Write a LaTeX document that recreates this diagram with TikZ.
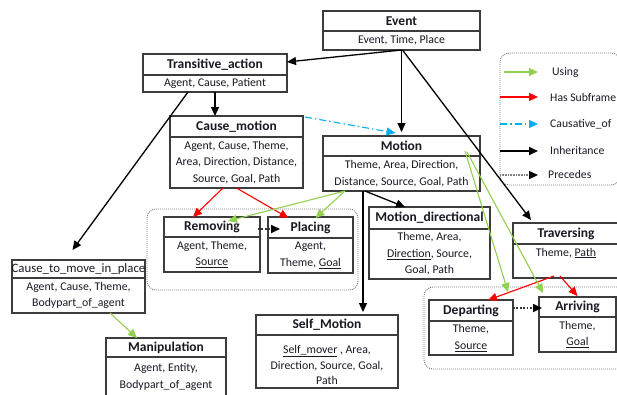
\documentclass[tikz,border=0pt]{standalone}
\usepackage{fontspec}
\setmainfont{Carlito}
\usetikzlibrary{arrows.meta,fit,calc}
\definecolor{ugreen}{RGB}{146,208,80}
\definecolor{ured}{RGB}{255,0,0}
\definecolor{ucyan}{RGB}{0,176,240}
\definecolor{boxc}{RGB}{60,60,60}
\definecolor{txtc}{RGB}{25,25,35}
\tikzset{
  box/.style={draw=boxc, line width=1.1pt, inner sep=0pt, outer sep=0pt},
  ttl/.style={font=\bfseries\fontsize{13.5}{15}\selectfont, text=txtc, inner sep=0pt},
  bod/.style={font=\fontsize{11.8}{16.5}\selectfont, text=txtc, align=center, inner sep=0pt},
  grp/.style={draw=gray, line width=0.9pt, dash pattern=on 1pt off 1pt, rounded corners=9pt, inner sep=0pt},
  tip/.style={-{Triangle[length=9pt,width=8pt]}},
  inh/.style={tip, draw=black, line width=1.3pt},
  usg/.style={tip, draw=ugreen, color=ugreen, line width=1.1pt},
  sub/.style={tip, draw=ured, color=ured, line width=1.1pt},
  cau/.style={tip, draw=ucyan, color=ucyan, line width=1.1pt, dash pattern=on 7pt off 3pt on 1.5pt off 3pt},
  prc/.style={-{Triangle[length=9pt,width=8pt,black]}, draw=black!80, line width=1.7pt, dash pattern=on 1.7pt off 1.7pt},
  lgt/.style={font=\fontsize{11.7}{13}\selectfont, text=txtc, anchor=west, inner sep=0pt},
}
\newcommand\mkframe[9]{%
  \coordinate (#1-nw) at (#2,#3);
  \coordinate (#1-se) at (#5,#6);
  \node[box, fit=(#1-nw)(#1-se)] (#1) {};
  \draw[draw=boxc, line width=#7] (#2,#4) -- (#5,#4);
  \node[ttl] (#1-t) at ({(#2+#5)/2},{(#3+#4)/2}) {#8};
  \node[bod] (#1-b) at ({(#2+#5)/2},{(#4+#6)/2}) {#9};
}
\begin{document}
\begin{tikzpicture}[x=1pt,y=-1pt]
\useasboundingbox (0,0) rectangle (617,394);
\clip (0,0) rectangle (617,394);
\fill[white] (0,0) rectangle (617,394);

% groups
\coordinate (g1a) at (147,209); \coordinate (g1b) at (358,290);
\node[grp, fit=(g1a)(g1b)] (grpRP) {};
\coordinate (g2a) at (424,287); \coordinate (g2b) at (628,369);
\node[grp, fit=(g2a)(g2b)] (grpDA) {};
\coordinate (g3a) at (500,53); \coordinate (g3b) at (620,185);
\node[grp, fit=(g3a)(g3b)] (legend) {};

% frames
\mkframe{Event}{323}{11}{31}{480}{50}{1.1pt}{Event}{Event, Time, Place}
\mkframe{Trans}{143}{54}{75}{287}{92}{1.1pt}{Transitive\_action}{Agent, Cause, Patient}
\mkframe{CM}{170}{116}{137}{303}{188}{2.2pt}{Cause\_motion}{Agent, Cause, Theme,\\Area, Direction, Distance,\\Source, Goal, Path}
\mkframe{Motion}{323}{136}{156}{480}{191}{1.1pt}{Motion}{Theme, Area, Direction,\\Distance, Source, Goal, Path}
\mkframe{Removing}{164}{217}{237}{260}{272}{1.1pt}{Removing}{Agent, Theme,\\\underline{Source}}
\mkframe{Placing}{268}{217}{238}{353}{273}{1.1pt}{Placing}{Agent,\\Theme, \underline{Goal}}
\mkframe{MD}{369}{207}{229}{490}{279}{1.1pt}{Motion\_directional}{Theme, Area,\\\underline{Direction}, Source,\\Goal, Path}
\mkframe{Trav}{513}{223}{244}{619}{278}{2.2pt}{Traversing}{}
\node[bod] (Trav-text) at (566,253) {Theme, \underline{Path}};
\mkframe{Dep}{429}{300}{321}{513}{355}{2.2pt}{Departing}{Theme,\\\underline{Source}}
\mkframe{Arr}{539}{297}{317}{616}{352}{1.1pt}{Arriving}{Theme,\\\underline{Goal}}
\mkframe{CTM}{12}{260}{278}{145}{313}{2.2pt}{\mdseries\fontsize{12.8}{15}\selectfont Cause\_to\_move\_in\_place}{Agent, Cause, Theme,\\Bodypart\_of\_agent}
\mkframe{Manip}{106}{338}{357}{226}{397}{1.1pt}{Manipulation}{Agent, Entity,\\Bodypart\_of\_agent}
\mkframe{Self}{256}{315}{335}{398}{388}{1.1pt}{Self\_Motion}{}
\node[bod, font=\fontsize{11.8}{15.5}\selectfont] (Self-text) at (327,365) {\underline{Self\_mover} , Area,\\Direction, Source, Goal,\\Path};

% inheritance
\draw[inh] (Event.south) -- ([yshift=11pt]Trans.east);
\draw[inh] (Event.south) -- ([yshift=4pt]Motion.north);
\draw[inh] ([xshift=1pt]Event.south) -- ([xshift=-35pt,yshift=3pt]Trav.north);
\draw[inh] (Trans.south) -- (Trans.south |- CM.north);
\draw[inh] ([xshift=-27pt]Trans.south) -- ([xshift=-6pt,yshift=10pt]CTM.north);
\draw[inh] ([xshift=-38.5pt]Motion.south) -- ([xshift=-38.5pt,yshift=3pt]Motion.south |- Self.north) ;
\draw[inh] ([xshift=-36.5pt]Motion.south) -- ([xshift=-24.5pt]MD.north);

% causative
\draw[cau] ([xshift=2pt,yshift=-1pt]CM.north east) -- ([xshift=-6pt,yshift=3pt]Motion.north);

% subframes
\draw[sub] ([xshift=-13.5pt]CM.south) -- ([xshift=-19pt]Removing.north);
\draw[sub] (CM.south) -- ([xshift=-22pt,yshift=-1pt]Placing.north);
\draw[sub] ([xshift=-12pt,yshift=2pt]Trav.south) -- ([xshift=17pt]Dep.north);
\draw[sub] ([xshift=-6pt,yshift=2pt]Trav.south) -- ([yshift=1pt]Arr.north);

% using
\draw[usg] ([xshift=-56.5pt]Motion.south) -- ([xshift=16pt,yshift=-4pt]Removing.north);
\draw[usg] ([xshift=-56.5pt]Motion.south) -- ([xshift=5pt,yshift=-1pt]Placing.north);
\draw[usg] ([xshift=-15pt,yshift=-15pt]Motion.north east) -- ([xshift=37pt,yshift=8pt]Dep.north);
\draw[usg] ([xshift=-13pt,yshift=-16pt]Motion.north east) -- ([xshift=-34.5pt,yshift=4pt]Arr.north);
\draw[usg] ([xshift=31.5pt]CTM.south) -- ([xshift=-29pt]Manip.north);

% precedes
\draw[prc] ([xshift=-2pt,yshift=-12pt]Removing.north east) -- ([xshift=12pt,yshift=-12pt]Placing.north west);
\draw[prc] ([yshift=-8pt]Dep.north east) -- ([xshift=3pt,yshift=-11pt]Arr.north west);

% legend
\coordinate (l1a) at (504,72);  \coordinate (l1b) at (538,72);
\coordinate (l2a) at (500,97);  \coordinate (l2b) at (538,97);
\coordinate (l3a) at (500,124); \coordinate (l3b) at (538,124);
\coordinate (l4a) at (500,151); \coordinate (l4b) at (538,151);
\coordinate (l5a) at (500,175); \coordinate (l5b) at (538,175);
\draw[usg] (l1a) -- (l1b);
\draw[sub] (l2a) -- (l2b);
\draw[cau] (l3a) -- (l3b);
\draw[inh, line width=1.7pt] (l4a) -- (l4b);
\draw[-{Triangle[length=9pt,width=8pt,black]}, draw=gray, line width=1.4pt, dash pattern=on 1pt off 0.6pt] (l5a) -- (l5b);
\node[lgt] (lg1) at (552,72) {Using};
\node[lgt] (lg2) at (550,97) {Has Subframe};
\node[lgt] (lg3) at (550,124) {Causative\_of};
\node[lgt] (lg4) at (550,150) {Inheritance};
\node[lgt] (lg5) at (548,174) {Precedes};
\end{tikzpicture}
\end{document}
